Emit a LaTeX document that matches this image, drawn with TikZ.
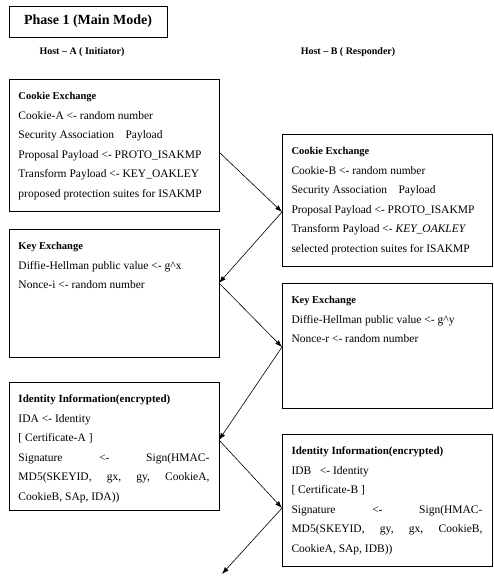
\documentclass[tikz,border=0pt]{standalone}
\usepackage{fontspec}
\setmainfont{Liberation Serif}
\usetikzlibrary{arrows.meta,calc}
\newcommand\bxcontent[2]{\parbox[c][#1][t]{191pt}{\fontsize{11.5}{19.5}\selectfont\rule{0pt}{16.5pt}#2}}
\newcommand\bxtitle[2][10.5]{{\fontsize{#1}{19.5}\selectfont\bfseries #2}}
\begin{document}
\begin{tikzpicture}[x=1pt,y=-1pt,
  box/.style={draw, line width=0.9pt, inner xsep=9.5pt, inner ysep=4pt, anchor=north west, outer sep=0pt},
  phasebox/.style={draw, line width=0.9pt, minimum width=158pt, minimum height=31pt, inner sep=0pt, font=\fontsize{14}{16}\selectfont\bfseries},
  hdr/.style={font=\fontsize{10}{12}\selectfont\bfseries},
  flow/.style={line width=0.6pt, -{Latex[length=7pt,width=5pt]}}
]
\useasboundingbox (0,0) rectangle (494,582);

\node[phasebox] (phase) at (88,21.5) {Phase 1 (Main Mode)};
\node[hdr] (hosta) at (82,52) {Host -- A ( Initiator)};
\node[hdr] (hostb) at (348,52) {Host -- B ( Responder)};

\node[box] (a1) at (9,79) {\bxcontent{124pt}{\bxtitle{Cookie Exchange}\\
Cookie-A <- random number\\
Security Association\quad Payload\\
Proposal Payload <- PROTO\_ISAKMP\\
Transform Payload <- KEY\_OAKLEY\\
proposed protection suites for ISAKMP}};

\node[box] (b1) at (282,134) {\bxcontent{124pt}{\bxtitle{Cookie Exchange}\\
Cookie-B <- random number\\
Security Association\quad Payload\\
Proposal Payload <- PROTO\_ISAKMP\\
Transform Payload <- \textit{KEY\_OAKLEY}\\
selected protection suites for ISAKMP}};

\node[box] (a2) at (9,229) {\bxcontent{120pt}{\bxtitle{Key Exchange}\\
Diffie-Hellman public value <- g\textasciicircum x\\
Nonce-i <- random number}};

\node[box] (b2) at (282,283) {\bxcontent{117pt}{\bxtitle{Key Exchange}\\
Diffie-Hellman public value <- g\textasciicircum y\\
Nonce-r <- random number}};

\node[box] (a3) at (9,382) {\bxcontent{120pt}{\bxtitle[11]{Identity Information(encrypted)}\\
IDA <- Identity\\
{[} Certificate-A ]\\
Signature\hfill <-\hfill Sign(HMAC-\\
MD5(SKEYID,\hfill gx,\hfill gy,\hfill CookieA,\\
CookieB, SAp, IDA))}};

\node[box] (b3) at (282,434) {\bxcontent{124pt}{\bxtitle[11]{Identity Information(encrypted)}\\
IDB\ \ \ <- Identity\\
{[} Certificate-B ]\\
Signature\hfill <-\hfill Sign(HMAC-\\
MD5(SKEYID,\hfill gy,\hfill gx,\hfill CookieB,\\
CookieA, SAp, IDB))}};

\coordinate (p1) at (a1.east |- 0,152);
\coordinate (q1) at (b1.west |- 0,212);
\coordinate (p2) at (a2.east |- 0,283);
\coordinate (q2) at (b2.west |- 0,347);
\coordinate (p3) at (a3.east |- 0,440);
\coordinate (q3) at (b3.west |- 0,508);
\coordinate (fin) at (222,574);

\draw[flow] (p1) -- (q1);
\draw[flow] (q1) -- (p2);
\draw[flow] (p2) -- (q2);
\draw[flow] (q2) -- (p3);
\draw[flow] (p3) -- (q3);
\draw[flow] (q3) -- (fin);
\end{tikzpicture}
\end{document}
